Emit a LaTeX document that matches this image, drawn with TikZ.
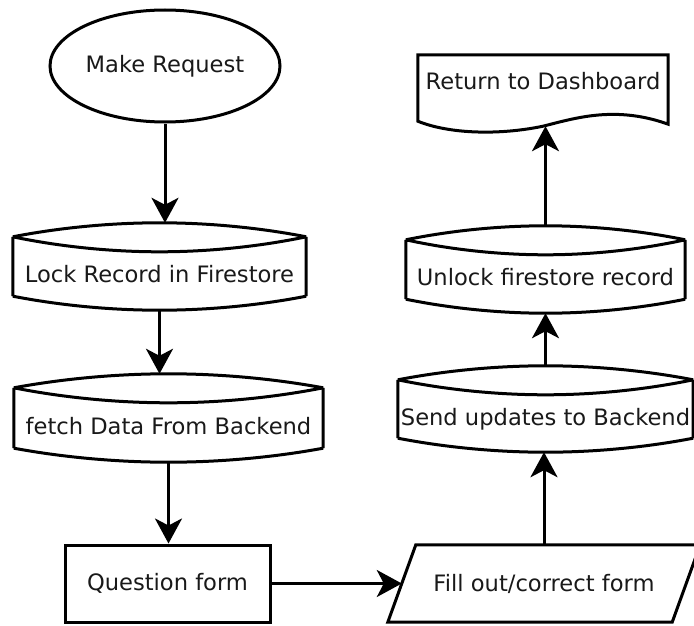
\documentclass[tikz,border=0pt]{standalone}
\usepackage{fontspec}
\setmainfont{DejaVu Sans}
\usetikzlibrary{positioning}
\usetikzlibrary{calc}
\usetikzlibrary{arrows.meta,shapes.geometric}

\tikzset{
  line/.style={line width=3pt},
  flow/.style={line width=3pt,-{Stealth[length=25pt,width=27pt,inset=7pt]}},
  store/.style={inner sep=0pt,text height=59pt,text depth=27pt},
}

\begin{document}
\begin{tikzpicture}[x=1pt,y=-1pt,font=\fontsize{22.6}{26}\selectfont,text=black!90]
\useasboundingbox (0,0) rectangle (694,626);

\node[ellipse,draw,line,inner sep=0pt,minimum width=230pt,minimum height=112pt](mk) at (165,66){Make Request};
\node[store,minimum width=293pt,minimum height=87pt](lock) at (159.5,266.5){Lock Record in Firestore};
\node[store,minimum width=309pt,minimum height=88pt](fetch) at (168.5,418){fetch Data From Backend};
\node[draw,line,minimum width=205pt,minimum height=77pt](quest) at (167.5,583.5){Question form};
\node[inner sep=0pt,minimum width=284pt,minimum height=77pt](fill) at (544,583.5){Fill out/correct form};
\node[store,minimum width=295pt,minimum height=86pt](send) at (545.5,409){Send updates to Backend};
\node[store,minimum width=279pt,minimum height=87pt](unlock) at (545.5,269.5){Unlock firestore record};
\node[inner sep=0pt,text height=35pt,text depth=31pt,minimum width=250pt](ret) at (543,88){Return to Dashboard};

% stored data outlines
\foreach \n in {lock,fetch,send,unlock}{
  \path ($(\n.north west)+(0,14)$) coordinate (tl)
        ($(\n.north east)+(0,14)$) coordinate (tr)
        ($(\n.south west)+(0,-14)$) coordinate (bl)
        ($(\n.south east)+(0,-14)$) coordinate (br);
  \draw[line] (tl) parabola bend (\n.north) (tr)
        (tl) parabola bend ($(\n.north)+(0,29)$) (tr)
        (tl) -- (bl) (tr) -- (br)
        (bl) parabola bend (\n.south) (br);
}

% input slant
\draw[line] ($(fill.south west)+(-14,0)$) -- ($(fill.north west)+(14,0)$)
  -- ($(fill.north east)+(14,0)$) -- ($(fill.south east)+(-14,0)$) -- cycle;

% document with wavy bottom
\draw[line] (ret.south west) .. controls +(32,13) and +(-43,9) .. ($(ret.south)+(0,5)$) coordinate (wave)
  .. controls +(32,-8) and +(-53,-19) .. ($(ret.south east)+(0,3)$)
  -- (ret.north east) -- (ret.north west) -- cycle;

\path
(mk.south) edge[flow] (mk.south |- lock.north)
(lock.south) edge[flow] (lock.south |- fetch.north)
(fetch.south) edge[flow] (fetch.south |- quest.north)
(quest.east) edge[flow] (fill.west)
(fill.north) edge[flow] (fill.north |- send.south)
(send.north) edge[flow] (send.north |- unlock.south)
(unlock.north) edge[flow] (unlock.north |- wave);
\end{tikzpicture}
\end{document}
